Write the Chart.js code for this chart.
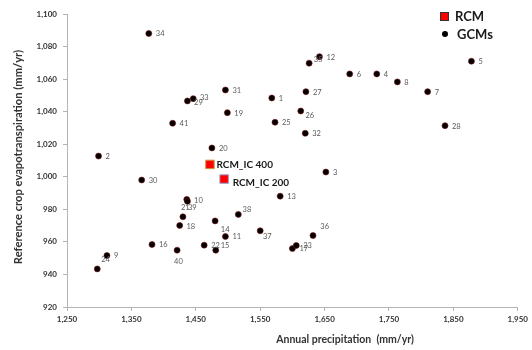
<!DOCTYPE html>
<html>
<head>
<meta charset="utf-8">
<script src="https://cdn.jsdelivr.net/npm/chart.js@4.4.0/dist/chart.umd.min.js"></script>
<style>
  html, body { margin: 0; padding: 0; background: #fff; }
  #wrap { width: 532px; height: 350px; }
</style>
</head>
<body>
<div id="wrap"><canvas id="chart" width="532" height="350"></canvas></div>
<script>
// GCM runs: id, annual precipitation (mm/yr), reference ET (mm/yr)
const gcmIds = ['1','2','3','4','5','6','7','8','9','10','11','12','13','14','15','16','17','18','19','20','21',
                '22','23','24','25','26','27','28','29','30','31','32','33','34','35','36','37','38','39','40','41'];
const gcmPrecip = [1568, 1299, 1652, 1731, 1878, 1689, 1810, 1763, 1312, 1436, 1496, 1642, 1581, 1480, 1481,
                   1382, 1600, 1425, 1499, 1475, 1437, 1463, 1606, 1297, 1573, 1613, 1621, 1837, 1437, 1366,
                   1496, 1620, 1446, 1377, 1626, 1632, 1550, 1516, 1430, 1421, 1414];
const gcmEto = [1048.4, 1012.7, 1002.9, 1063.2, 1071.0, 1063.2, 1052.3, 1058.3, 951.6, 986.1, 963.3, 1073.8,
                988.1, 972.9, 954.9, 958.4, 955.9, 970.1, 1039.4, 1017.7, 984.9, 958.0, 957.8, 943.4, 1033.5,
                1040.4, 1052.3, 1031.4, 1046.6, 998.0, 1053.3, 1026.7, 1048.0, 1088.0, 1069.8, 963.9, 966.8,
                976.9, 975.4, 954.9, 1032.9];

// RCM runs
const rcmNames = ['RCM_IC 400', 'RCM_IC 200'];
const rcmPrecip = [1472, 1494];
const rcmEto = [1007.6, 998.6];

// axis ticks
const xTicks = [1250, 1350, 1450, 1550, 1650, 1750, 1850, 1950];
const yTicks = [920, 940, 960, 980, 1000, 1020, 1040, 1060, 1080, 1100];

// label nudges (px) where the default "to the right" would collide
const labelOffsets = {
    '21': [-6.5, 6.5], '39': [5, -9], '29': [6.7, 2], '33': [6.7, -1.5],
    '35': [4.7, -3.3], '26': [4.7, 5], '38': [4.3, -5], '14': [5.7, 8.3],
    '37': [2.7, 5.7], '36': [7.3, -8.7], '15': [5, -4.3], '40': [-3, 11],
    '24': [4, -9.3], '10': [7.3, 1.3], '18': [6.7, 1]
};

const axisGrey = '#b4b4b4';
const textDark = '#333333';

const labelPlugin = {
    id: 'pointLabels',
    afterDatasetsDraw(chart) {
        const ctx = chart.ctx;
        ctx.save();
        ctx.textAlign = 'left';
        ctx.textBaseline = 'middle';

        // GCM numbers
        ctx.font = '7.5px Lato';
        ctx.fillStyle = '#595959';
        chart.getDatasetMeta(0).data.forEach((pt, i) => {
            const id = gcmIds[i];
            const off = labelOffsets[id] || [7, 0.5];
            ctx.fillText(id, pt.x + off[0], pt.y + off[1]);
        });

        // RCM names
        ctx.font = 'bold 10px Lato';
        ctx.fillStyle = '#1a1a1a';
        const rcmOff = [[6.5, 0], [8.5, 3.5]];
        chart.getDatasetMeta(1).data.forEach((pt, i) => {
            ctx.fillText(rcmNames[i], pt.x + rcmOff[i][0], pt.y + rcmOff[i][1]);
        });
        ctx.restore();
    },
    afterDraw(chart) {
        const ctx = chart.ctx;
        ctx.save();
        ctx.fillStyle = textDark;
        ctx.textAlign = 'center';
        ctx.textBaseline = 'middle';

        // axis titles
        ctx.font = 'bold 10.5px Lato';
        ctx.fillText('Annual precipitation  (mm/yr)', 345, 340);
        ctx.save();
        ctx.translate(18, 157);
        ctx.rotate(-Math.PI / 2);
        ctx.font = 'bold 11.2px Lato';
        ctx.fillText('Reference crop evapotranspiration (mm/yr)', 0, 0);
        ctx.restore();

        // legend
        ctx.fillStyle = '#ff0000';
        ctx.strokeStyle = '#333333';
        ctx.lineWidth = 1;
        ctx.fillRect(440.5, 12.5, 8, 8);
        ctx.strokeRect(440.5, 12.5, 8, 8);
        ctx.fillStyle = '#000000';
        ctx.beginPath();
        ctx.arc(445, 34, 3, 0, Math.PI * 2);
        ctx.fill();
        ctx.fillStyle = '#1a1a1a';
        ctx.textAlign = 'left';
        ctx.font = 'bold 13px Lato';
        ctx.fillText('RCM', 455, 17);
        ctx.fillText('GCMs', 457, 34.5);
        ctx.restore();
    }
};

new Chart(document.getElementById('chart'), {
    type: 'scatter',
    data: {
        datasets: [{
            label: 'GCMs',
            data: gcmPrecip.map((p, i) => ({ x: p, y: gcmEto[i] })),
            backgroundColor: '#000000',
            borderColor: '#7a1010',
            borderWidth: 0.6,
            pointRadius: 3,
            pointHoverRadius: 3
        }, {
            label: 'RCM',
            data: rcmPrecip.map((p, i) => ({ x: p, y: rcmEto[i] })),
            pointStyle: 'rect',
            backgroundColor: '#ff0000',
            borderColor: ['#c8963c', '#8fa3cc'],
            borderWidth: 1,
            pointRadius: 6,
            pointHoverRadius: 6
        }]
    },
    options: {
        responsive: false,
        animation: false,
        layout: { padding: { top: 14, right: 12.5, left: 0, bottom: 0 } },
        plugins: {
            legend: { display: false },
            tooltip: { enabled: false }
        },
        scales: {
            x: {
                type: 'linear',
                min: xTicks[0],
                max: xTicks[xTicks.length - 1],
                afterBuildTicks: axis => { axis.ticks = xTicks.map(v => ({ value: v })); },
                afterFit: axis => { axis.height = 43; },
                grid: { drawOnChartArea: false, drawTicks: true, tickLength: 4, color: axisGrey },
                border: { color: axisGrey },
                ticks: {
                    padding: 4,
                    color: textDark,
                    font: { family: 'Lato', size: 8, weight: 'bold' },
                    callback: v => v.toLocaleString('en-US')
                }
            },
            y: {
                type: 'linear',
                min: yTicks[0],
                max: yTicks[yTicks.length - 1],
                afterBuildTicks: axis => { axis.ticks = yTicks.map(v => ({ value: v })); },
                afterFit: axis => { axis.width = 67; },
                grid: { drawOnChartArea: false, drawTicks: true, tickLength: 4, color: axisGrey },
                border: { color: axisGrey },
                ticks: {
                    padding: 6,
                    color: textDark,
                    font: { family: 'Lato', size: 8, weight: 'bold' },
                    callback: v => v.toLocaleString('en-US')
                }
            }
        }
    },
    plugins: [labelPlugin]
});
</script>
</body>
</html>
